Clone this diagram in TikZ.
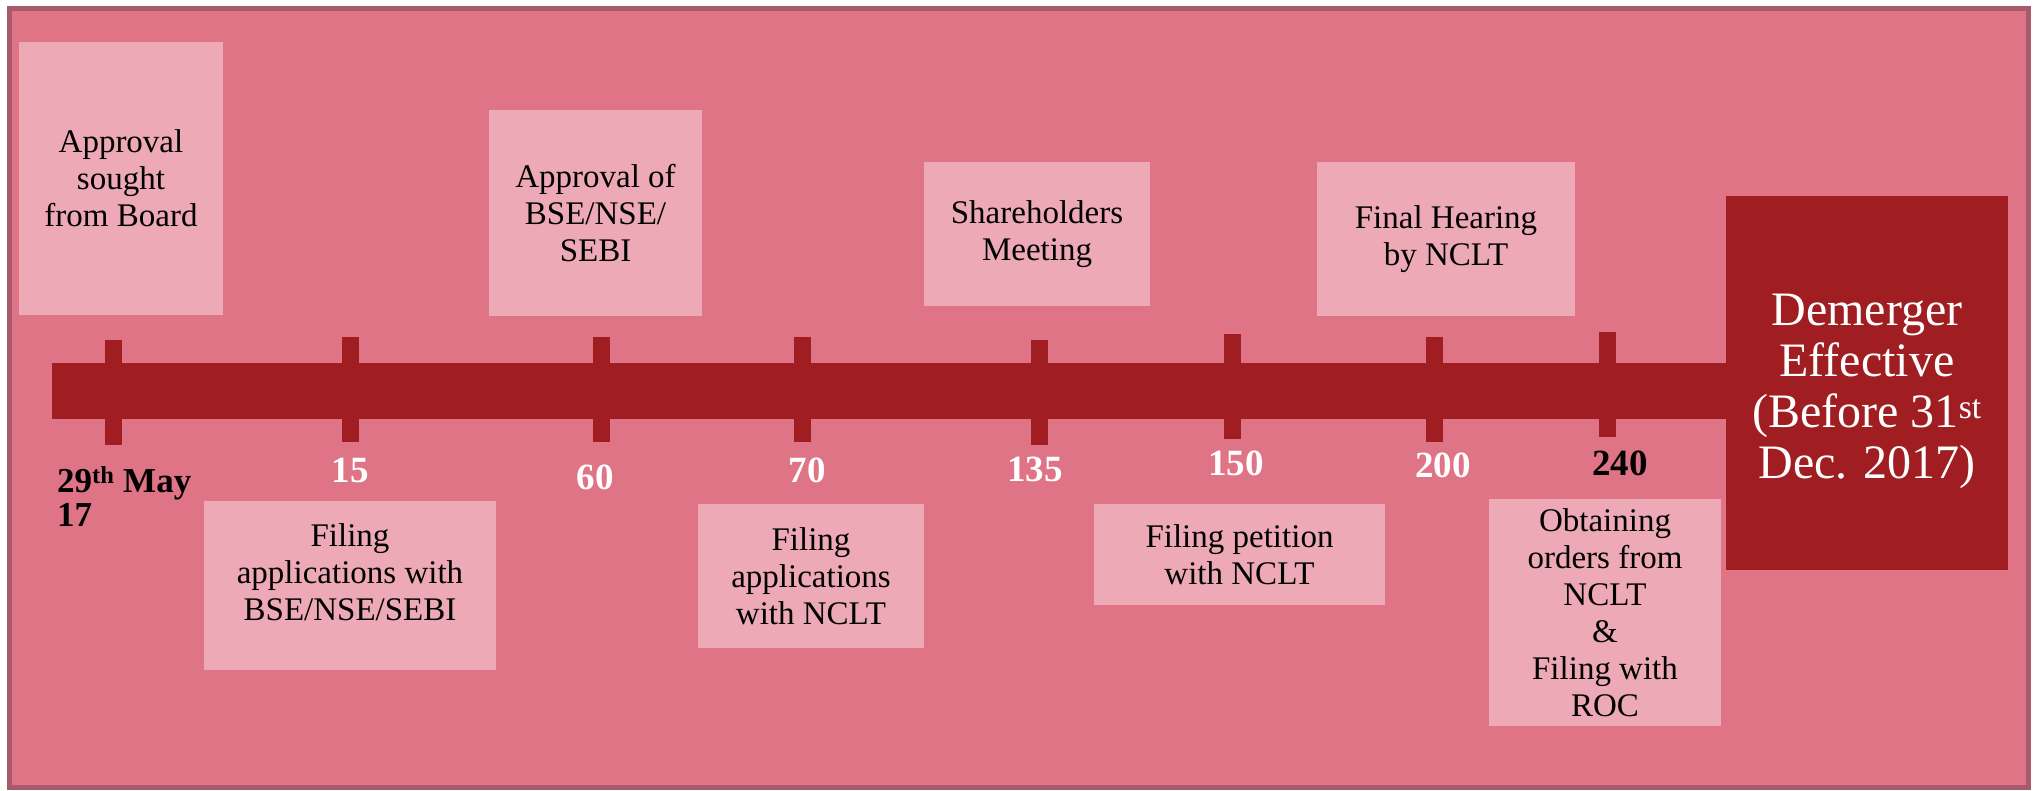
\documentclass[tikz,border=0pt]{standalone}
\usepackage{fontspec}
\setmainfont{Liberation Serif}
\usetikzlibrary{positioning}

\definecolor{bgpink}{HTML}{E07487}
\definecolor{boxpink}{HTML}{EDA9B5}
\definecolor{darkred}{HTML}{A01E21}
\definecolor{framered}{HTML}{A65A6B}

\begin{document}
\begin{tikzpicture}[x=1pt,y=-1pt,
  evbox/.style={fill=boxpink,align=center,inner sep=0pt,
    font=\fontsize{33}{37}\selectfont},
  tickbox/.style={fill=darkred,inner sep=0pt,minimum width=17pt,minimum height=105pt},
  daylbl/.style={font=\fontsize{37}{40}\selectfont\bfseries,text=white,inner sep=0pt}]
  \useasboundingbox (0,0) rectangle (2037,790);
  % frame and main bar
  \draw[framered,line width=5pt,fill=bgpink] (9.5,8.5) rectangle (2028.5,787.5);
  \fill[darkred] (52,363) rectangle (1727,419);
  % ticks with day counts below
  \foreach \i/\x/\y in {0/113.5/392.5,1/350.5/389.5,2/601.5/389.5,3/802.5/389.5,
                        4/1039.5/392.5,5/1232.5/386.5,6/1434.5/389.5,7/1607.5/384.5} {
    \node[tickbox] (tick\i) at (\x,\y) {};
  }
  \foreach \x/\y/\d in {350/470/15,595/477/60,807/470/70,1035/469/135,1236/463/150,1443/465/200} {
    \node[daylbl] at (\x,\y) {\d};
  }
  \node[daylbl,text=black] (day240) at (1620,463) {240};
  \node[font=\fontsize{35}{34}\selectfont\bfseries,align=left,anchor=north west,inner sep=0pt]
    (start) at (57,466) {29\textsuperscript{th} May\\17};

  % events above the bar
  \node[evbox,minimum width=204pt,minimum height=273pt] (board) at (121,178.5)
    {Approval\\sought\\from Board};
  \node[evbox,minimum width=213pt,minimum height=206pt] (exapproval) at (595.5,213)
    {Approval of\\BSE/NSE/\\SEBI};
  \node[evbox,minimum width=226pt,minimum height=144pt] (meeting) at (1037,234)
    {Shareholders\\Meeting};
  \node[evbox,minimum width=258pt,minimum height=154pt] (hearing) at (1446,239)
    {Final Hearing\\by NCLT};

  % events below the bar
  \node[evbox,minimum width=292pt,minimum height=169pt] (exfiling) at (350,585.5) {};
  \node[evbox,fill=none] at ([yshift=13pt]exfiling.center)
    {Filing\\applications with\\BSE/NSE/SEBI};
  \node[evbox,minimum width=226pt,minimum height=144pt] (nclt) at (811,576)
    {Filing\\applications\\with NCLT};
  \node[evbox,minimum width=291pt,minimum height=101pt] (petition) at (1239.5,554.5)
    {Filing petition\\with NCLT};
  \node[evbox,minimum width=232pt,minimum height=227pt] (orders) at (1605,612.5)
    {Obtaining\\orders from\\NCLT\\\&\\Filing with\\ROC};

  % end of the line
  \node[fill=darkred,text=white,align=center,inner sep=0pt,minimum width=282pt,
    minimum height=374pt,font=\fontsize{48}{51}\selectfont] (demerger) at (1867,383) {};
  \node[text=white,align=center,inner sep=0pt,font=\fontsize{48}{51}\selectfont]
    at ([yshift=-8pt]demerger.center) {Demerger\\Effective\\(Before 31\textsuperscript{st}\\Dec. 2017)};
\end{tikzpicture}
\end{document}
